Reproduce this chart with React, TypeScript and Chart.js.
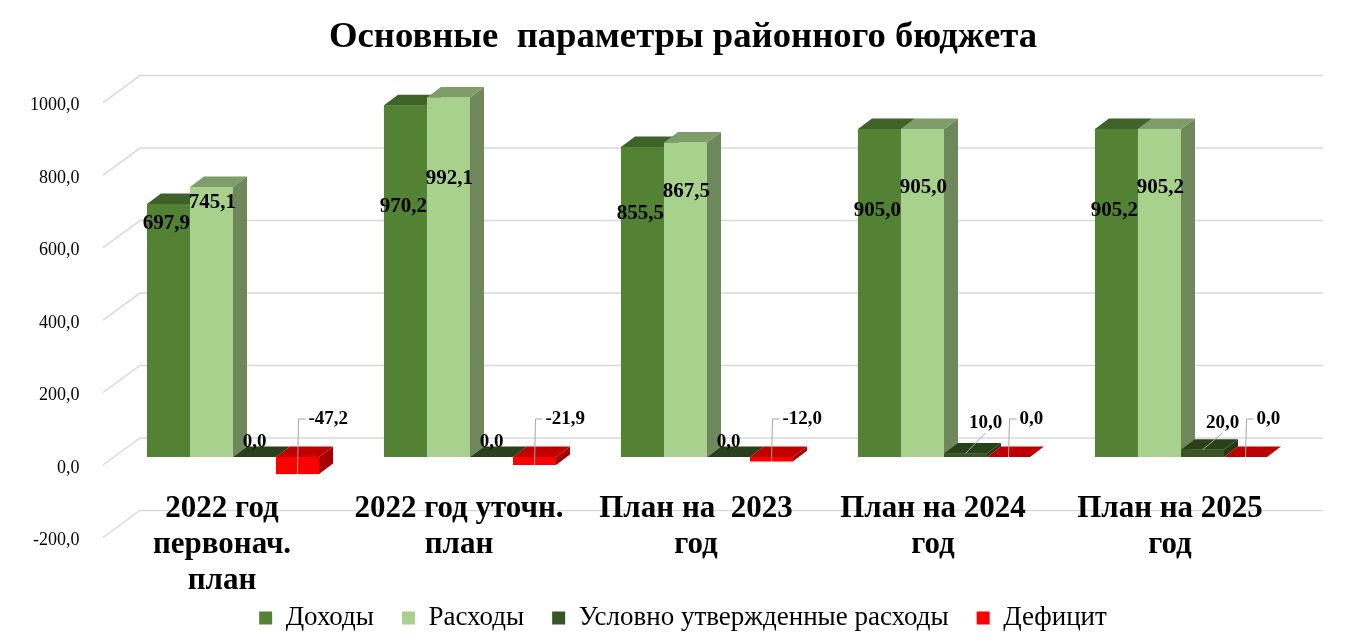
import React, { useEffect, useRef } from "react";
import { Chart, registerables } from "chart.js";

Chart.register(...registerables);

// ---------- data ----------
const categories: string[][] = [
  ["2022 год", "первонач.", "план"],
  ["2022 год уточн.", "план"],
  ["План на  2023", "год"],
  ["План на 2024", "год"],
  ["План на 2025", "год"],
];
const seriesNames = ["Доходы", "Расходы", "Условно утвержденные расходы", "Дефицит"];
const dohody = [697.9, 970.2, 855.5, 905.0, 905.2];
const rashody = [745.1, 992.1, 867.5, 905.0, 905.2];
const uslovno = [0.0, 0.0, 0.0, 10.0, 20.0];
const deficit = [-47.2, -21.9, -12.0, 0.0, 0.0];
const yTicks = [-200, 0, 200, 400, 600, 800, 1000];
const chartTitle = "Основные  параметры районного бюджета";

// ---------- style ----------
const COLORS = ["#548235", "#A9D18E", "#375623", "#FF0000"];
const SERIF = "'Liberation Serif', 'Times New Roman', serif";
const DEPTH_X = 14;
const DEPTH_Y = 10.5;
const GRID_COLOR = "#d9d9d9";
const LEADER_COLOR = "#a6a6a6";

const fmt = (v: number) => v.toFixed(1).replace(".", ",");

function shade(hex: string, f: number) {
  const n = parseInt(hex.slice(1), 16);
  const r = Math.round(((n >> 16) & 255) * f);
  const g = Math.round(((n >> 8) & 255) * f);
  const b = Math.round((n & 255) * f);
  return `rgb(${r},${g},${b})`;
}

const wallPlugin = {
  id: "wall3d",
  beforeDraw(chart: any) {
    const { ctx, chartArea, scales } = chart;
    const y = scales.y;
    ctx.save();
    ctx.strokeStyle = GRID_COLOR;
    ctx.lineWidth = 1.5;
    for (const v of yTicks) {
      const py = y.getPixelForValue(v);
      ctx.beginPath();
      ctx.moveTo(chartArea.left - 11.5, py + 8);
      ctx.lineTo(chartArea.left + 25.5, py - 19);
      ctx.lineTo(chartArea.right + 23.5, py - 19);
      ctx.stroke();
    }
    ctx.restore();
  },
};

function poly(ctx: CanvasRenderingContext2D, pts: number[][], fill: string) {
  ctx.beginPath();
  ctx.moveTo(pts[0][0], pts[0][1]);
  for (let k = 1; k < pts.length; k++) ctx.lineTo(pts[k][0], pts[k][1]);
  ctx.closePath();
  ctx.fillStyle = fill;
  ctx.fill();
}

// label anchor rule for the tall series: value-position = k*v + b
const TALL_LABEL_RULE = [
  { k: 0.17, b: 525, dx: -2 },
  { k: 0.267, b: 502, dx: 1 },
];

const bars3dPlugin = {
  id: "bars3d",
  afterDatasetsDraw(chart: any) {
    const { ctx, scales } = chart;
    const ys = scales.y;
    const zeroPx = ys.getPixelForValue(0);
    const nCat = categories.length;
    const nSer = chart.data.datasets.length;
    ctx.save();
    // faces
    for (let j = 0; j < nCat; j++) {
      for (let i = 0; i < nSer; i++) {
        const el = chart.getDatasetMeta(i).data[j];
        const { x, y, base, width } = el.getProps(["x", "y", "base", "width"], true);
        const left = x - width / 2;
        const right = x + width / 2;
        const top = Math.min(y, base);
        const bottom = Math.max(y, base);
        const c = COLORS[i];
        poly(ctx, [[right, top], [right + DEPTH_X, top - DEPTH_Y], [right + DEPTH_X, bottom - DEPTH_Y], [right, bottom]], shade(c, 0.65));
        poly(ctx, [[left, top], [right, top], [right + DEPTH_X, top - DEPTH_Y], [left + DEPTH_X, top - DEPTH_Y]], shade(c, 0.75));
        ctx.fillStyle = c;
        ctx.fillRect(left, top, width, bottom - top);
      }
    }
    // labels
    ctx.fillStyle = "#000";
    ctx.strokeStyle = LEADER_COLOR;
    ctx.lineWidth = 1;
    for (let j = 0; j < nCat; j++) {
      for (let i = 0; i < nSer; i++) {
        const el = chart.getDatasetMeta(i).data[j];
        const { x, y, base } = el.getProps(["x", "y", "base"], true);
        const v = chart.data.datasets[i].data[j] as number;
        const top = Math.min(y, base);
        const bottom = Math.max(y, base);
        if (i < 2) {
          const r = TALL_LABEL_RULE[i];
          ctx.font = `bold 21px ${SERIF}`;
          ctx.textAlign = "center";
          ctx.textBaseline = "middle";
          ctx.fillText(fmt(v), x + r.dx, ys.getPixelForValue(r.k * v + r.b));
        } else if (i === 2) {
          ctx.font = `bold 19px ${SERIF}`;
          ctx.textAlign = "center";
          ctx.textBaseline = "middle";
          if (v === 0) {
            ctx.fillText(fmt(v), x, top - 15);
          } else {
            const lx = x + 20;
            const ly = zeroPx - 34;
            ctx.beginPath();
            ctx.moveTo(x, top);
            ctx.lineTo(lx, ly + 10);
            ctx.stroke();
            ctx.fillText(fmt(v), lx, ly);
          }
        } else {
          ctx.font = `bold 19px ${SERIF}`;
          ctx.textAlign = "left";
          ctx.textBaseline = "middle";
          const ly = zeroPx - 38;
          ctx.beginPath();
          ctx.moveTo(x, bottom);
          ctx.lineTo(x + 1, ly);
          ctx.lineTo(x + 8, ly);
          ctx.stroke();
          ctx.fillText(fmt(v), x + 11, ly);
        }
      }
    }
    ctx.restore();
  },
};

export default function App() {
  const ref = useRef<HTMLCanvasElement | null>(null);
  useEffect(() => {
    if (!ref.current) return;
    Chart.defaults.font.family = SERIF;
    Chart.defaults.color = "#000";
    const seriesData = [dohody, rashody, uslovno, deficit];
    const chart = new Chart(ref.current, {
      type: "bar",
      data: {
        labels: categories,
        datasets: seriesNames.map((name, i) => ({
          label: name,
          data: seriesData[i],
          backgroundColor: COLORS[i],
          borderWidth: 0,
          categoryPercentage: 0.726,
          barPercentage: 1.0,
          yAxisID: "y",
        })),
      },
      options: {
        animation: false,
        responsive: true,
        maintainAspectRatio: false,
        layout: { padding: { left: 0, right: 0, top: 0, bottom: 2.5 } },
        plugins: {
          title: {
            display: true,
            text: chartTitle,
            color: "#000",
            font: { family: SERIF, size: 36.7, weight: "bold", lineHeight: 1.2 },
            padding: { top: 16, bottom: 34.5 },
          },
          legend: {
            position: "bottom",
            labels: {
              boxWidth: 13,
              boxHeight: 13,
              padding: 28,
              color: "#000",
              font: { family: SERIF, size: 27 },
            },
          },
          tooltip: { enabled: false },
        },
        scales: {
          x: {
            grid: { display: false },
            border: { display: false },
            ticks: {
              color: "#000",
              font: { family: SERIF, size: 31, weight: "bold", lineHeight: 1.16 },
              mirror: true,
              padding: 2.5,
              labelOffset: -11,
              maxRotation: 0,
              minRotation: 0,
              autoSkip: false,
            },
            afterFit: (s: any) => {
              s.height = 47;
            },
          },
          y: {
            min: -200,
            max: 1000,
            grid: { display: false },
            border: { display: false },
            ticks: {
              stepSize: 200,
              color: "#000",
              font: { family: SERIF, size: 18 },
              padding: 27,
              labelOffset: 11,
              callback: (v: any) => fmt(Number(v)),
            },
            afterFit: (s: any) => {
              s.width = 114.5;
            },
          },
          yRight: {
            type: "linear",
            position: "right",
            display: true,
            grid: { display: false },
            border: { display: false },
            ticks: { display: false },
            afterFit: (s: any) => {
              s.width = 66.5;
            },
          },
        },
      },
      plugins: [wallPlugin, bars3dPlugin],
    });
    return () => chart.destroy();
  }, []);
  return (
    <div style={{ position: "absolute", left: 0, top: 0, width: 1366, height: 644, background: "#fff" }}>
      <canvas ref={ref} />
    </div>
  );
}
